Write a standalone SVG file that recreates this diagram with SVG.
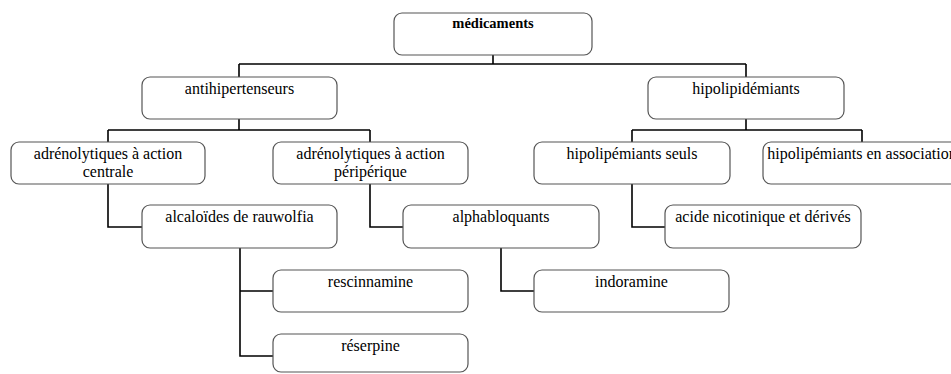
<svg xmlns="http://www.w3.org/2000/svg" width="951" height="374" viewBox="0 0 951 374">
<style>
.box{fill:#fff;stroke:#555;stroke-width:1.2}
.t{font-family:"Liberation Serif","Times New Roman",serif;font-size:16px;fill:#000;text-anchor:middle}
.b{font-weight:bold;font-size:14.5px}
.c{fill:none;stroke:#000;stroke-width:1.6}
</style>
<rect width="951" height="374" fill="#fff"/>
<g id="connectors" class="c">
<path d="M493,55V64M239,64H746M239,64V77M746,64V77"/>
<path d="M239,119V130M108,130H370M108,130V142M370,130V142"/>
<path d="M746,119V130M632,130H862M632,130V142M862,130V142"/>
<path d="M108,184V227H142"/>
<path d="M370,184V227H403"/>
<path d="M632,184V227H665"/>
<path d="M240,248V356H273M240,291H273"/>
<path d="M501,248V291H534"/>
</g>
<g id="n-medicaments"><rect class="box" x="394" y="13" width="198" height="42" rx="8"/><text class="t b" x="493" y="28">médicaments</text></g>
<g id="n-antihip"><rect class="box" x="142" y="77" width="195" height="42" rx="8"/><text class="t" x="239.5" y="94">antihipertenseurs</text></g>
<g id="n-hipolipid"><rect class="box" x="648" y="77" width="196" height="42" rx="8"/><text class="t" x="746" y="94">hipolipidémiants</text></g>
<g id="n-adr-centrale"><rect class="box" x="11" y="142" width="194" height="42" rx="8"/><text class="t" x="108" y="159">adrénolytiques à action<tspan x="108" dy="18">centrale</tspan></text></g>
<g id="n-adr-periph"><rect class="box" x="273" y="142" width="195" height="42" rx="8"/><text class="t" x="370.5" y="159">adrénolytiques à action<tspan x="370.5" dy="18">péripérique</tspan></text></g>
<g id="n-hip-seuls"><rect class="box" x="534" y="142" width="196" height="42" rx="8"/><text class="t" x="632" y="159">hipolipémiants seuls</text></g>
<g id="n-hip-assoc"><rect class="box" x="763" y="142" width="198" height="42" rx="8"/><text class="t" x="862" y="159">hipolipémiants en association</text></g>
<g id="n-alcaloides"><rect class="box" x="142" y="205" width="195" height="43" rx="8"/><text class="t" x="239.5" y="222">alcaloïdes de rauwolfia</text></g>
<g id="n-alpha"><rect class="box" x="403" y="205" width="196" height="43" rx="8"/><text class="t" x="501" y="222">alphabloquants</text></g>
<g id="n-acide"><rect class="box" x="665" y="205" width="196" height="43" rx="8"/><text class="t" x="763" y="222">acide nicotinique et dérivés</text></g>
<g id="n-rescinnamine"><rect class="box" x="273" y="270" width="195" height="42" rx="8"/><text class="t" x="370.5" y="287">rescinnamine</text></g>
<g id="n-indoramine"><rect class="box" x="534" y="270" width="195" height="42" rx="8"/><text class="t" x="631.5" y="287">indoramine</text></g>
<g id="n-reserpine"><rect class="box" x="273" y="334" width="195" height="38" rx="8"/><text class="t" x="370.5" y="351">réserpine</text></g>
</svg>
